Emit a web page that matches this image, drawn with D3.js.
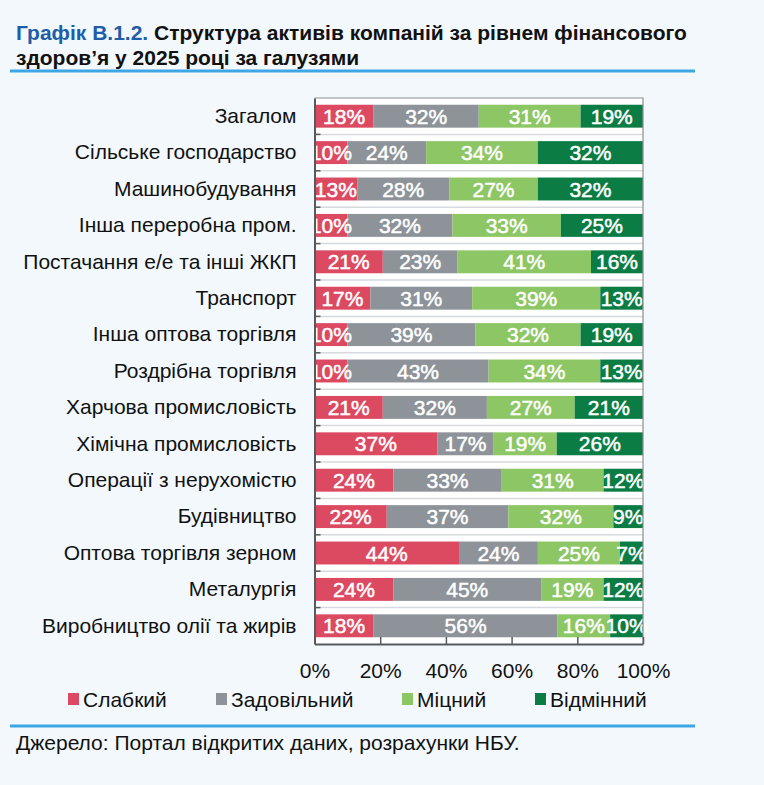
<!DOCTYPE html>
<html>
<head>
<meta charset="utf-8">
<script src="https://cdn.jsdelivr.net/npm/d3@7"></script>
<style>
  html, body { margin: 0; padding: 0; background: #f2f8fc; }
  svg { display: block; font-family: "Liberation Sans", Arial, sans-serif; }
</style>
</head>
<body>
<svg id="chart" width="764" height="785"></svg>
<script>
// --- data ---
const categories = [
  "Загалом", "Сільське господарство", "Машинобудування", "Інша переробна пром.",
  "Постачання е/е та інші ЖКП", "Транспорт", "Інша оптова торгівля", "Роздрібна торгівля",
  "Харчова промисловість", "Хімічна промисловість", "Операції з нерухомістю", "Будівництво",
  "Оптова торгівля зерном", "Металургія", "Виробництво олії та жирів"
];
const seriesNames = ["Слабкий", "Задовільний", "Міцний", "Відмінний"];
const weak      = [18, 10, 13, 10, 21, 17, 10, 10, 21, 37, 24, 22, 44, 24, 18];
const adequate  = [32, 24, 28, 32, 23, 31, 39, 43, 32, 17, 33, 37, 24, 45, 56];
const strong    = [31, 34, 27, 33, 41, 39, 32, 34, 27, 19, 31, 32, 25, 19, 16];
const excellent = [19, 32, 32, 25, 16, 13, 19, 13, 21, 26, 12,  9,  7, 12, 10];
const xTicks = [0, 0.2, 0.4, 0.6, 0.8, 1];

const colors = ["#dc4a62", "#8d9399", "#8dc664", "#0c7c45"];

const rows = categories.map((c, i) => ({
  cat: c,
  [seriesNames[0]]: weak[i],
  [seriesNames[1]]: adequate[i],
  [seriesNames[2]]: strong[i],
  [seriesNames[3]]: excellent[i]
}));

const svg = d3.select("#chart");

// --- title ---
const title = svg.append("text")
  .attr("x", 16).attr("y", 40)
  .style("font-weight", "bold").style("font-size", "21px");
title.append("tspan").attr("fill", "#1e5ea8").text("Графік В.1.2. ");
title.append("tspan").attr("fill", "#111").text("Структура активів компаній за рівнем фінансового");
svg.append("text")
  .attr("x", 16).attr("y", 65)
  .style("font-weight", "bold").style("font-size", "21px").attr("fill", "#111")
  .text("здоров’я у 2025 році за галузями");

svg.append("line").attr("x1", 10).attr("x2", 695).attr("y1", 71).attr("y2", 71)
  .attr("stroke", "#3ea6e3").attr("stroke-width", 3);

// --- plot ---
const plot = { left: 314.5, right: 643, top: 98, bottom: 644 };

const x = d3.scaleLinear().domain([0, 1]).range([plot.left, plot.right]);
const y = d3.scaleBand().domain(categories)
  .range([plot.top, plot.bottom]).paddingInner(0.37).paddingOuter(0.185);

const stack = d3.stack().keys(seriesNames).offset(d3.stackOffsetExpand);
const stacked = stack(rows);

svg.append("rect")
  .attr("x", plot.left).attr("y", plot.top)
  .attr("width", plot.right - plot.left).attr("height", plot.bottom - plot.top)
  .attr("fill", "#ffffff");

// light separators between bands
const step = y.step();
const gap = step - y.bandwidth();
const boundaries = categories.slice(1).map(c => y(c) - gap / 2);
svg.append("g").selectAll("line").data(boundaries).join("line")
  .attr("x1", plot.left).attr("x2", plot.right)
  .attr("y1", d => d).attr("y2", d => d)
  .attr("stroke", "#d6dade").attr("stroke-width", 1.5);

// bars
const layer = svg.append("g").selectAll("g").data(stacked).join("g")
  .attr("fill", (d, i) => colors[i]);

layer.selectAll("rect").data(d => d).join("rect")
  .attr("x", d => x(d[0]))
  .attr("y", d => y(d.data.cat))
  .attr("width", d => x(d[1]) - x(d[0]))
  .attr("height", y.bandwidth());

// bar labels (slight stroke makes them a bit heavier, like the original)
const labels = svg.append("g")
  .style("font-size", "21px").attr("fill", "#ffffff").attr("text-anchor", "middle")
  .attr("stroke", "#ffffff").attr("stroke-width", 0.5);
stacked.forEach(s => {
  labels.selectAll(null).data(s).join("text")
    .attr("x", d => (x(d[0]) + x(d[1])) / 2)
    .attr("y", d => y(d.data.cat) + y.bandwidth() / 2)
    .attr("dy", "0.36em")
    .text(d => d.data[s.key] + "%");
});

// frame top/right
svg.append("path")
  .attr("d", `M${plot.left},${plot.top}H${plot.right}V${plot.bottom}`)
  .attr("fill", "none").attr("stroke", "#8a8f94").attr("stroke-width", 1.2);

// left ticks (inward) at band boundaries
svg.append("g").selectAll("line").data(boundaries).join("line")
  .attr("x1", plot.left).attr("x2", plot.left + 6)
  .attr("y1", d => d).attr("y2", d => d)
  .attr("stroke", "#555a5e").attr("stroke-width", 1.5);

// x axis
const xAxis = svg.append("g")
  .attr("transform", `translate(0,${plot.bottom})`)
  .call(d3.axisBottom(x).tickValues(xTicks).tickFormat(d3.format(".0%"))
    .tickSize(-7).tickSizeOuter(0).tickPadding(19));
xAxis.select(".domain").attr("stroke", "#555a5e").attr("stroke-width", 2);
xAxis.selectAll(".tick line").attr("stroke", "#555a5e").attr("stroke-width", 1.5);
xAxis.selectAll(".tick text").style("font-size", "21px").attr("fill", "#111")
  .style("font-family", "'Liberation Sans', Arial, sans-serif");

// y axis (category labels)
const yAxis = svg.append("g")
  .attr("transform", `translate(${plot.left},0)`)
  .call(d3.axisLeft(y).tickSize(0).tickPadding(18));
yAxis.select(".domain").attr("stroke", "#555a5e").attr("stroke-width", 2);
yAxis.selectAll(".tick text").style("font-size", "21px").attr("fill", "#111")
  .style("font-family", "'Liberation Sans', Arial, sans-serif");

// --- legend ---
const legendX = [68, 216, 402, 535];
const legend = svg.append("g").selectAll("g").data(seriesNames).join("g")
  .attr("transform", (d, i) => `translate(${legendX[i]},699)`);
legend.append("rect").attr("x", 0).attr("y", -6).attr("width", 11).attr("height", 12)
  .attr("fill", (d, i) => colors[i]);
legend.append("text").attr("x", 15).attr("y", 0).attr("dy", "0.36em")
  .style("font-size", "21px").attr("fill", "#111").text(d => d);

svg.append("line").attr("x1", 10).attr("x2", 695).attr("y1", 726).attr("y2", 726)
  .attr("stroke", "#3ea6e3").attr("stroke-width", 3);

svg.append("text").attr("x", 16).attr("y", 750)
  .style("font-size", "21px").attr("fill", "#111")
  .text("Джерело: Портал відкритих даних, розрахунки НБУ.");
</script>
</body>
</html>
